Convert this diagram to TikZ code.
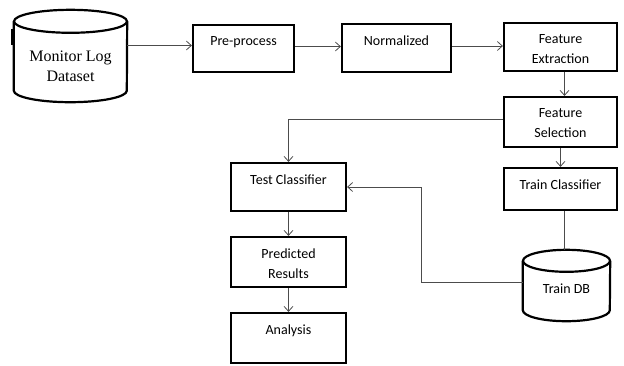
\documentclass[tikz,border=0pt]{standalone}
\usepackage{fontspec}
\setmainfont{Carlito}
\newfontfamily\timesface{Liberation Serif}
\usepackage{tikz}
\usetikzlibrary{arrows.meta}

\begin{document}
\begin{tikzpicture}[x=1pt,y=-1pt,
  procbox/.style={draw,line width=2.2pt,inner sep=0pt},
  boxlbl/.style={anchor=north,inner sep=0pt,label distance=-12.5pt,align=center,
    font={\fontsize{14}{20}\selectfont}},
  dbspace/.style={inner sep=0pt},
  dbline/.style={line width=2.2pt},
  conn/.style={draw=black!70,line width=.8pt,-{Straight Barb[length=5pt,width=9pt]}},
  plain/.style={draw=black!70,line width=.8pt}]
\useasboundingbox (0,0) rectangle (624,365);

% top row
\node[dbspace,minimum width=113pt,minimum height=92pt] (log) at (70.5,56) {};
\draw[dbline] ([yshift=-11.5pt]log.north) ellipse [x radius=56.5pt,y radius=11.5pt];
\draw[dbline] ([yshift=-11.5pt]log.north west) -- ([yshift=11.5pt]log.south west)
  arc[start angle=180,end angle=360,x radius=56.5pt,y radius=11.5pt] -- ([yshift=-11.5pt]log.north east);
\node[align=center,font={\timesface\fontsize{16}{19.5}\selectfont}] (logtext) at ([yshift=-10.5pt]log.center) {Monitor Log\\Dataset};
\draw[line width=1.5pt] (12,29) -- (12,45);

\node[procbox,minimum width=101pt,minimum height=47pt,label={[boxlbl]north:Pre-process}] (pre) at (243.5,48.5) {};
\node[procbox,minimum width=109pt,minimum height=48pt,label={[boxlbl]north:Normalized}] (norm) at (396.5,48) {};
\node[procbox,minimum width=113pt,minimum height=48pt,label={[boxlbl]north:Feature\\Extraction}] (fe) at (560.5,47) {};

% right column
\node[procbox,minimum width=113pt,minimum height=50pt,label={[boxlbl]north:Feature\\Selection}] (fs) at (560.5,122) {};
\node[procbox,minimum width=113pt,minimum height=42pt,label={[boxlbl]north:Train Classifier}] (train) at (560.5,189) {};
\node[dbspace,minimum width=87pt,minimum height=71pt] (db) at (566.5,285.5) {};
\draw[dbline] ([yshift=-11pt]db.north) ellipse [x radius=43.5pt,y radius=11pt];
\draw[dbline] ([yshift=-11pt]db.north west) -- ([yshift=11pt]db.south west)
  arc[start angle=180,end angle=360,x radius=43.5pt,y radius=11pt] -- ([yshift=-11pt]db.north east);
\node[font=\fontsize{14}{20}\selectfont] (dbtext) at ([yshift=-3.5pt]db.center) {Train DB};

% left column
\node[procbox,minimum width=115pt,minimum height=48pt,label={[boxlbl]north:Test Classifier}] (test) at (288.5,187) {};
\node[procbox,minimum width=115pt,minimum height=50pt,label={[boxlbl]north:Predicted\\Results}] (pred) at (288.5,262) {};
\node[procbox,minimum width=115pt,minimum height=50pt,label={[boxlbl]north:Analysis}] (ana) at (288.5,338) {};

% connectors
\draw[conn] ([yshift=3pt]pre.west -| log.east) -- ([yshift=3pt]pre.west);
\draw[conn] ([yshift=2pt]pre.east) -- ([yshift=2pt]pre.east -| norm.west);
\draw[conn] ([yshift=2pt]norm.east) -- ([yshift=2pt]norm.east -| fe.west);
\draw[conn] ([xshift=4pt]fe.south) -- ([xshift=4pt]fs.north);
\draw[conn] ([yshift=3pt]fs.west) -| (test.north);
\draw[conn] (fs.south) -- (train.north);
\draw[plain] ([xshift=4pt]train.south) -- ([xshift=4pt]train.south |- db.north);
\draw[conn] ([yshift=3.5pt]db.west) -- ++(-101,0) |- (test.east);
\draw[conn] (test.south) -- (pred.north);
\draw[conn] (pred.south) -- (ana.north);
\end{tikzpicture}
\end{document}
